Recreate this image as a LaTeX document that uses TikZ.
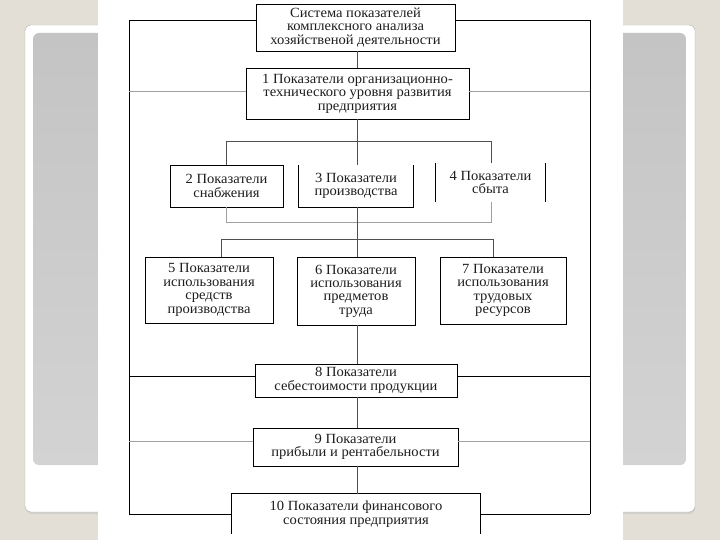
\documentclass[tikz,border=0pt]{standalone}
\usepackage{fontspec}
\setmainfont[FakeStretch=1.04]{Liberation Serif}
\usetikzlibrary{calc}
\definecolor{beige}{HTML}{E4DFD6}
\definecolor{slideedge}{HTML}{B4AFA8}
\definecolor{greytop}{HTML}{C4C4C4}
\definecolor{greybot}{HTML}{D3D3D3}
\definecolor{inkc}{HTML}{1E1E1E}
\definecolor{conn}{HTML}{505050}
\definecolor{lightln}{HTML}{A0A0A0}
\tikzset{
  boxtxt/.style={inner sep=0pt, align=center, text=inkc, font=\fontsize{14}{13.4}\selectfont},
  boxdraw/.style={boxtxt, draw=black, line width=0.9pt},
  cline/.style={draw=conn, line width=0.9pt},
  gline/.style={draw=lightln, line width=0.8pt},
  fline/.style={draw=black, line width=0.9pt},
}
\begin{document}
\begin{tikzpicture}[x=1pt,y=-1pt]
\useasboundingbox (0,0) rectangle (720,540);
% background slide
\fill[beige] (0,0) rectangle (720,540);
\fill[color=slideedge!60, rounded corners=6pt] (26,27) rectangle (695,514);
\filldraw[fill=white, draw=slideedge, rounded corners=6pt] (25,25) rectangle (695,512);
\shade[top color=greytop, bottom color=greybot, rounded corners=6pt] (33,33) rectangle (686,465);
\fill[white] (98,0) rectangle (623,540);

% nodes
\node[boxdraw, minimum width=199pt, minimum height=47pt] (t) at (355.5,27.5) {Система показателей\\комплексного анализа\\хозяйственой деятельности};
\node[boxdraw, minimum width=223pt, minimum height=51pt] (b1) at (357.5,93.5) {1 Показатели организационно-\\технического уровня развития\\предприятия};
\node[boxdraw, minimum width=113pt, minimum height=42pt] (b2) at (226.5,186) {2 Показатели\\снабжения};
\node[boxtxt, minimum width=114pt, minimum height=42pt] (b3) at (356,186) {3 Показатели\\производства};
\node[boxtxt, minimum width=109pt, minimum height=39pt] (b4) at (490.5,182.5) {4 Показатели\\сбыта};
\node[boxdraw, minimum width=128pt, minimum height=66pt] (b5) at (209,290) {5 Показатели\\использования\\средств\\производства};
\node[boxdraw, minimum width=118pt, minimum height=68pt] (b6) at (356,291) {6 Показатели\\использования\\предметов\\труда};
\node[boxdraw, minimum width=126pt, minimum height=67pt] (b7) at (503,290.5) {7 Показатели\\использования\\трудовых\\ресурсов};
\node[boxdraw, minimum width=202pt, minimum height=33pt] (b8) at (356,380.5) {8 Показатели\\себестоимости продукции};
\node[boxdraw, minimum width=205pt, minimum height=38pt] (b9) at (355.5,447) {9 Показатели\\прибыли и рентабельности};
\node[boxtxt, minimum width=248pt, minimum height=40pt] (b10) at (356,514) {10 Показатели финансового\\состояния предприятия};

% open boxes
\draw[fline] (b3.north west) -- (b3.south west) -- (b3.south east) -- (b3.north east);
\draw[fline] (b4.north west) -- (b4.south west);
\draw[fline] (b4.north east) -- (b4.south east);
\draw[fline] (b10.south west) -- (b10.north west) -- (b10.north east) -- (b10.south east);

% helper coordinates
\coordinate (xc) at (357,0);
\coordinate (f1) at (129,20);
\coordinate (f2) at (590,20);
\coordinate (f3) at (129,514);
\coordinate (f4) at (590,514);
\coordinate (g1l) at (129,91);
\coordinate (g1r) at (590,91);
\coordinate (h8l) at (129,376);
\coordinate (h8r) at (590,376);
\coordinate (g9l) at (129,441);
\coordinate (g9r) at (590,441);
\coordinate (bus1l) at (226.5,141);
\coordinate (bus1r) at (491,141);
\coordinate (bus2l) at (226.5,222);
\coordinate (bus2r) at (491,222);
\coordinate (bus3l) at (221,239);
\coordinate (bus3r) at (493,239);

% frame
\draw[fline] (f1) -- (f3);
\draw[fline] (f2) -- (f4);
\draw[fline] (f1) -- (t.west |- f1);
\draw[fline] (t.east |- f2) -- (f2);
\draw[gline] (g1l) -- (b1.west |- g1l);
\draw[gline] (b1.east |- g1r) -- (g1r);
\draw[fline] (h8l) -- (b8.west |- h8l);
\draw[fline] (b8.east |- h8r) -- (h8r);
\draw[gline] (g9l) -- (b9.west |- g9l);
\draw[gline] (b9.east |- g9r) -- (g9r);
\draw[fline] (f3) -- (b10.west |- f3);
\draw[fline] (b10.east |- f4) -- (f4);

% connectors
\draw[cline] (t.south -| xc) -- (b1.north -| xc);
\draw[cline] (b1.south -| xc) -- (b3.north -| xc);
\draw[cline] (bus1l) -- (bus1r);
\draw[cline] (bus1l) -- (b2.north);
\draw[cline] (bus1r) -- (bus1r |- b4.north);
\draw[gline] (b2.south) -- (bus2l) -- (bus2r) -- (bus2r |- b4.south);
\draw[cline] (b3.south -| xc) -- (b6.north -| xc);
\draw[cline] (bus3l) -- (bus3r);
\draw[cline] (bus3l) -- (bus3l |- b5.north);
\draw[cline] (bus3r) -- (bus3r |- b7.north);
\draw[cline] (b6.south -| xc) -- (b8.north -| xc);
\draw[cline] (b8.south -| xc) -- (b9.north -| xc);
\draw[cline] (b9.south -| xc) -- (b10.north -| xc);
\end{tikzpicture}
\end{document}
